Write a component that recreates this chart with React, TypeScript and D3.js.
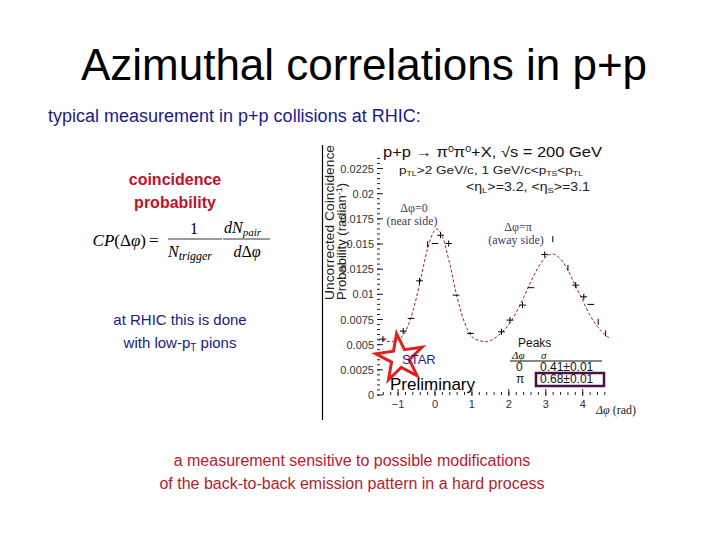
import * as d3 from "d3";

// measured points (delta phi in rad, probability)
const phiVals = [-1.41, -0.86, -0.65, -0.42, -0.2, 0.0, 0.15, 0.37, 0.57, 0.96, 1.8, 2.03, 2.37, 2.6, 2.97, 3.19, 3.6, 3.81, 4.03, 4.22, 4.42, 4.62];
const probVals = [0.00556, 0.00635, 0.00761, 0.01134, 0.01498, 0.01505, 0.01587, 0.01505, 0.00992, 0.00612, 0.00628, 0.00744, 0.00893, 0.01066, 0.01396, 0.01548, 0.01263, 0.01091, 0.00975, 0.009, 0.00727, 0.00612];
const phiErr = [0.09, 0.09, 0.09, 0.09, 0, 0.09, 0.09, 0.09, 0.09, 0.09, 0.09, 0.09, 0.09, 0.09, 0.09, 0, 0, 0.09, 0.09, 0.09, 0, 0];
const probErr = [0.0003, 0.0003, 0, 0.0003, 0.0003, 0, 0.0003, 0.0003, 0, 0.0001, 0.0003, 0.0003, 0.0003, 0, 0.0003, 0.0003, 0.0003, 0.0003, 0.0003, 0, 0.0003, 0.0003];

// fit curve
const fitPhi = [-1.57, -1.4, -1.2, -1.0, -0.8, -0.6, -0.4, -0.2, 0.0, 0.05, 0.2, 0.4, 0.6, 0.8, 1.0, 1.2, 1.4, 1.6, 1.8, 2.0, 2.2, 2.4, 2.6, 2.8, 3.0, 3.18, 3.4, 3.6, 3.8, 4.0, 4.2, 4.4, 4.6, 4.71];
const fitProb = [0.0055, 0.0054, 0.0053, 0.0055, 0.0063, 0.0083, 0.0113, 0.01455, 0.0164, 0.0165, 0.01575, 0.013, 0.0097, 0.0072, 0.0058, 0.0054, 0.0053, 0.0056, 0.0062, 0.007, 0.0082, 0.0097, 0.0113, 0.0127, 0.0137, 0.014, 0.0135, 0.0124, 0.0109, 0.0094, 0.0079, 0.0068, 0.006, 0.0057];

const yTickVals = [0, 0.0025, 0.005, 0.0075, 0.01, 0.0125, 0.015, 0.0175, 0.02, 0.0225];
const yTickLabels = ["0", "0.0025", "0.005", "0.0075", "0.01", "0.0125", "0.015", "0.0175", "0.02", "0.0225"];
const xTickVals = [-1, 0, 1, 2, 3, 4];

const peakNames = ["0", "π"];
const peakSigma = ["0.41±0.01", "0.68±0.01"];

const sans = "'Liberation Sans', Arial, sans-serif";
const serif = "'Liberation Serif', 'DejaVu Serif', serif";

export default function App() {
  const x = d3.scaleLinear().domain([-Math.PI / 2, (3 * Math.PI) / 2]).range([377, 609]);
  const y = d3.scaleLinear().domain([0, 0.0225]).range([395, 168.5]);

  const fitLine = d3
    .line<number>()
    .x((_, i) => x(fitPhi[i]))
    .y((d) => y(d))
    .curve(d3.curveMonotoneX)(fitProb);

  const yMinor = d3.range(0, 0.0236, 0.0005);
  const xMinor = d3.range(-1.4, 4.75, 0.2);
  const star = d3.symbol().type(d3.symbolStar).size(680)();

  return (
    <svg width={720} height={540} style={{ position: "absolute", left: 0, top: 0, background: "#fff" }}>
      {/* slide text */}
      <text x={364} y={80} textAnchor="middle" fontFamily={sans} fontSize={44} fill="#000">
        Azimuthal correlations in p+p
      </text>
      <text x={48} y={122} fontFamily={sans} fontSize={18} fill="#1a1a8c">
        typical measurement in p+p collisions at RHIC:
      </text>
      <text x={175} y={185} textAnchor="middle" fontFamily={sans} fontSize={16} fontWeight="bold" fill="#c0102a">
        coincidence
      </text>
      <text x={175} y={208} textAnchor="middle" fontFamily={sans} fontSize={16} fontWeight="bold" fill="#c0102a">
        probability
      </text>

      {/* formula */}
      <g fontFamily={serif} fill="#000">
        <text x={146} y={246} textAnchor="end" fontSize={17}>
          <tspan fontStyle="italic">CP</tspan>(Δ<tspan fontStyle="italic">φ</tspan>)
        </text>
        <text x={149} y={246} fontSize={17}>=</text>
        <text x={194} y={234} textAnchor="middle" fontSize={16}>1</text>
        <line x1={168} x2={222} y1={239} y2={239} stroke="#000" strokeWidth={0.8} />
        <text x={168} y={257} fontSize={16} fontStyle="italic">
          N<tspan fontSize={12} dy={3}>trigger</tspan>
        </text>
        <text x={224} y={233} fontSize={16} fontStyle="italic">
          dN<tspan fontSize={11} dy={3}>pair</tspan>
        </text>
        <line x1={223} x2={270} y1={239} y2={239} stroke="#000" strokeWidth={0.8} />
        <text x={247} y={257} textAnchor="middle" fontSize={16}>
          <tspan fontStyle="italic">d</tspan>Δ<tspan fontStyle="italic">φ</tspan>
        </text>
      </g>

      <text x={180} y={325} textAnchor="middle" fontFamily={sans} fontSize={15} fill="#1a1a80">
        at RHIC this is done
      </text>
      <text x={180} y={348} textAnchor="middle" fontFamily={sans} fontSize={15} fill="#1a1a80">
        with low-p<tspan fontSize={10} dy={3}>T</tspan>
        <tspan dy={-3}> pions</tspan>
      </text>

      <text x={352} y={466} textAnchor="middle" fontFamily={sans} fontSize={16} fill="#b52030">
        a measurement sensitive to possible modifications
      </text>
      <text x={352} y={489} textAnchor="middle" fontFamily={sans} fontSize={16} fill="#b52030">
        of the back-to-back emission pattern in a hard process
      </text>

      {/* plot frame */}
      <line x1={322.5} x2={322.5} y1={145} y2={420} stroke="#000" strokeWidth={1.2} />

      {/* y axis label */}
      <g fontFamily={sans} fontSize={13} fill="#222">
        <text transform="translate(333.5,300) rotate(-90)" textLength={155} lengthAdjust="spacingAndGlyphs">
          Uncorrected Coincidence
        </text>
        <text transform="translate(345.5,300) rotate(-90)">
          Probability (radian<tspan fontSize={9} dy={-4}>-1</tspan>
          <tspan dy={4}>)</tspan>
        </text>
      </g>

      {/* y ticks */}
      {yMinor.map((v, i) => (
        <line key={"ym" + i} x1={377} x2={380} y1={y(v)} y2={y(v)} stroke="#222" strokeWidth={1} />
      ))}
      {yTickVals.map((v, i) => (
        <g key={"yt" + i}>
          <line x1={377} x2={383} y1={y(v)} y2={y(v)} stroke="#222" strokeWidth={1} />
          <text x={374} y={y(v) + 4} textAnchor="end" fontFamily={sans} fontSize={11} fill="#333">
            {yTickLabels[i]}
          </text>
        </g>
      ))}

      {/* x ticks */}
      {xMinor.map((v, i) => (
        <line key={"xm" + i} x1={x(v)} x2={x(v)} y1={395} y2={392} stroke="#222" strokeWidth={1} />
      ))}
      {xTickVals.map((v) => (
        <g key={"xt" + v}>
          <line x1={x(v)} x2={x(v)} y1={396} y2={389} stroke="#222" strokeWidth={1} />
          <text x={x(v)} y={408} textAnchor="middle" fontFamily={sans} fontSize={11} fill="#333">
            {v < 0 ? "−" + Math.abs(v) : v}
          </text>
        </g>
      ))}
      <text x={636} y={414} textAnchor="end" fontFamily={serif} fontSize={12} fill="#222">
        <tspan fontStyle="italic">Δφ</tspan> (rad)
      </text>

      {/* headers inside plot */}
      <text x={383} y={157} fontFamily={sans} fontSize={14} fill="#111" textLength={219} lengthAdjust="spacingAndGlyphs">
        p+p → π<tspan fontSize={9} dy={-5}>0</tspan>
        <tspan dy={5}>π</tspan>
        <tspan fontSize={9} dy={-5}>0</tspan>
        <tspan dy={5}>+X, √s = 200 GeV</tspan>
      </text>
      <text x={399} y={174} fontFamily={sans} fontSize={11} fill="#222" textLength={184} lengthAdjust="spacingAndGlyphs">
        p<tspan fontSize={7} dy={2}>TL</tspan>
        <tspan dy={-2}>&gt;2 GeV/c, 1 GeV/c&lt;p</tspan>
        <tspan fontSize={7} dy={2}>TS</tspan>
        <tspan dy={-2}>&lt;p</tspan>
        <tspan fontSize={7} dy={2}>TL</tspan>
      </text>
      <text x={466} y={191} fontFamily={sans} fontSize={12} fill="#222" textLength={124} lengthAdjust="spacingAndGlyphs">
        &lt;η<tspan fontSize={8} dy={2}>L</tspan>
        <tspan dy={-2}>&gt;=3.2, &lt;η</tspan>
        <tspan fontSize={8} dy={2}>S</tspan>
        <tspan dy={-2}>&gt;=3.1</tspan>
      </text>

      <g fontFamily={serif} fontSize={12} fill="#3a3a66" textAnchor="middle">
        <text x={414} y={212}>Δφ=0</text>
        <text x={412} y={225}>(near side)</text>
        <text x={518} y={231}>Δφ=π</text>
        <text x={516} y={244}>(away side)</text>
      </g>

      {/* fit curve */}
      <path d={fitLine ?? ""} fill="none" stroke="#a02525" strokeWidth={1} strokeDasharray="3,2" />

      {/* data points */}
      {phiVals.map((p, i) => (
        <g key={"pt" + i} stroke="#000" strokeWidth={1}>
          {phiErr[i] > 0 && <line x1={x(p - phiErr[i])} x2={x(p + phiErr[i])} y1={y(probVals[i])} y2={y(probVals[i])} />}
          {probErr[i] > 0 && <line x1={x(p)} x2={x(p)} y1={y(probVals[i] - probErr[i])} y2={y(probVals[i] + probErr[i])} />}
        </g>
      ))}

      {/* STAR logo */}
      <path d={star ?? ""} transform="translate(400,358) rotate(-8)" fill="none" stroke="#e3201f" strokeWidth={3} strokeLinejoin="miter" />
      <text x={402} y={364} fontFamily={sans} fontSize={13} fill="#1c1c8c">STAR</text>
      <text x={390} y={390} fontFamily={sans} fontSize={17} fill="#000">Preliminary</text>

      {/* peaks table */}
      <g fontFamily={sans} fontSize={12} fill="#111">
        <text x={518} y={347}>Peaks</text>
        <text x={512} y={359} fontFamily={serif} fontStyle="italic" fontSize={11}>Δφ</text>
        <text x={541} y={359} fontFamily={serif} fontStyle="italic" fontSize={11}>σ</text>
        <line x1={510} x2={602} y1={361} y2={361} stroke="#111" strokeWidth={1} />
        {peakNames.map((n, i) => (
          <g key={"pk" + i}>
            <text x={516} y={371 + i * 12}>{n}</text>
            <text x={540} y={371 + i * 12}>{peakSigma[i]}</text>
          </g>
        ))}
        <rect x={536} y={373} width={68} height={13} fill="none" stroke="#4a1040" strokeWidth={2.5} />
      </g>
    </svg>
  );
}
